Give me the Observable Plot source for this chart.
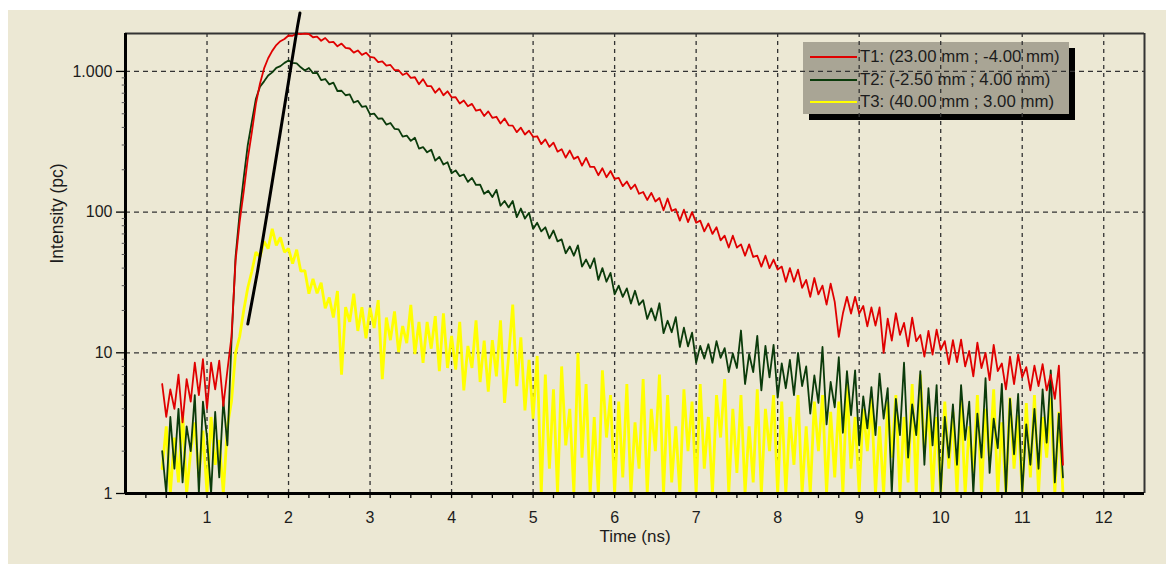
<!DOCTYPE html>
<html><head><meta charset="utf-8">
<script src="https://cdn.jsdelivr.net/npm/d3@7"></script>
<script src="https://cdn.jsdelivr.net/npm/@observablehq/plot@0.6"></script>
<style>
html,body{margin:0;padding:0;background:#fff;width:1174px;height:564px;overflow:hidden;font-family:"Liberation Sans",Arial,sans-serif;}
#panel{position:absolute;left:8px;top:10px;width:1158px;height:554px;background:#ECE8D4;}
#legend{position:absolute;left:803px;top:42px;width:266px;height:72px;background:#A9A595;box-shadow:6px 6px 0 #000;z-index:1;}
#chart{position:absolute;left:0;top:0;z-index:2;}
.row{position:absolute;left:7px;height:22px;display:flex;align-items:center;font-size:16.8px;color:#1c1c1c;white-space:nowrap;}
.sw{width:47px;height:2px;margin-right:3px;}
</style></head><body>
<div id="panel"></div>
<div id="legend"></div>
<div id="chart"></div>
<script>
// Series labels and colours
const seriesNames = ["T1: (23.00 mm ; -4.00 mm)", "T2: (-2.50 mm ; 4.00 mm)", "T3: (40.00 mm ; 3.00 mm)"];
const seriesColors = ["#e00000", "#0b3b0b", "#ffff00"];

// Time channels: first channel 0.45 ns, 0.05 ns apart
const timeStart = 0.45, timeStep = 0.05;

// T1 intensity (pc)
const t1Values = [
  6, 3.5, 5.5, 4, 7, 3.2, 6.5, 4.5, 8.5, 5, 9, 4, 8.5, 5.5, 8.8, 4.2, 7.5, 13, 45, 85,
  140, 240, 370, 590, 820, 1050, 1240, 1400, 1540, 1640, 1700, 1800, 1790, 1860, 1840, 1855, 1845, 1749, 1768, 1652,
  1728, 1610, 1623, 1508, 1576, 1468, 1455, 1361, 1410, 1312, 1358, 1270, 1253, 1165, 1180, 1098, 1111, 1023, 1019, 944,
  974, 899, 909, 811, 882, 788, 785, 706, 758, 677, 722, 654, 655, 591, 621, 565, 588, 526, 536, 482,
  520, 468, 476, 426, 463, 414, 412, 370, 398, 356, 379, 343, 346, 304, 329, 291, 312, 269, 280, 244,
  274, 239, 248, 214, 243, 210, 210, 183, 205, 177, 196, 172, 175, 153, 165, 146, 157, 135, 139, 122,
  137, 119, 126, 103, 125, 102, 105, 87, 104, 85, 100, 84, 87, 73, 83, 70, 78, 63, 68, 56,
  68, 56, 59, 49, 59, 48, 49, 41, 49, 40, 46, 39, 41, 32, 40, 32, 39, 29, 33, 25,
  34, 26, 30, 22, 31, 23, 13, 19, 25, 19, 25, 19, 21.5, 15.4, 21, 15.6, 21, 10, 17.5, 12.2,
  19.1, 13.4, 16.3, 11.1, 17.8, 12.1, 13.4, 9.4, 14.3, 9.7, 14.6, 10.5, 12.1, 8.3, 12.3, 8.6, 12.4, 8.0, 10.3, 6.8,
  11.8, 7.8, 10.0, 6.4, 11.4, 7.4, 8.4, 5.5, 9.4, 6.0, 9.7, 6.7, 7.9, 5.4, 8.1, 5.8, 8.3, 5.4, 7.0, 4.7,
  8.1, 1.6
];
// T2 intensity (pc)
const t2Values = [
  2, 1, 3.5, 1.5, 4, 1.2, 3, 2, 5, 1, 4.5, 2.5, 1, 3.8, 1.3, 4.6, 2.2, 12, 48, 98,
  175, 300, 440, 640, 780, 850, 935, 985, 1060, 1090, 1150, 1195, 1150, 1140, 1070, 1014, 1057, 973, 978, 867,
  883, 809, 832, 726, 729, 677, 687, 601, 618, 560, 566, 495, 501, 461, 463, 419, 430, 391, 387, 344,
  350, 321, 338, 283, 290, 266, 278, 232, 247, 218, 226, 189, 198, 180, 185, 164, 175, 156, 157, 135,
  142, 128, 144, 111, 120, 108, 120, 92, 106, 90, 99, 76, 84, 73, 78, 65, 74, 62, 64, 51,
  57, 49, 58, 41, 46, 40, 47, 33, 40, 32, 37, 26, 30, 25, 28.7, 22.4, 27.6, 21.9, 23.7, 17.4,
  20.7, 17, 22.5, 13.8, 16.9, 14, 17.9, 11, 15.1, 11.1, 13.9, 8.5, 11.2, 9.1, 11.5, 8.5, 12.1, 9.2, 10.8, 7.3,
  9.9, 7.8, 14.4, 6.0, 9.8, 7.3, 13.2, 5.4, 11.2, 6.7, 11.4, 4.8, 8.4, 5.6, 8.9, 5.0, 10.0, 5.8, 8.0, 3.7,
  6.9, 4.4, 11, 3.1, 6.2, 4.1, 9.3, 2.7, 7.4, 3.6, 7.5, 2.2, 4.9, 2.9, 5.7, 2.6, 7.1, 3.4, 5.6, 1,
  4.7, 2.6, 8.5, 1.8, 4.3, 2.6, 7.4, 1.6, 5.6, 2.2, 5.9, 1, 3.5, 1.8, 4.3, 1.6, 5.9, 2.4, 4.5, 1,
  3.7, 1.8, 6.6, 1.4, 3.4, 2.1, 6.0, 1, 4.7, 1.9, 5.1, 1, 3.1, 1.6, 4.0, 1.5, 5.5, 2.3, 7.5, 1.2,
  3.7, 1.3
];
// T3 intensity (pc)
const t3Values = [
  1.5, 3, 1, 2.5, 1.2, 3.8, 1, 2, 3.2, 1.3, 2.8, 1, 3.5, 1.6, 2.4, 1, 3, 4.5, 10, 13,
  20, 29, 38, 52, 48, 62, 55, 76, 58, 66, 52, 55, 43, 54, 38, 38.4, 26.3, 33.6, 26.5, 31.5,
  20.7, 24.7, 17.8, 27.5, 7, 21.1, 16.6, 26.3, 14.3, 21.1, 12.7, 20.9, 15.0, 23.7, 6.5, 17.8, 12.3, 19.7, 10.1, 15.5,
  11.7, 21.9, 9.8, 16.6, 8.5, 16.6, 10.7, 18.2, 7.4, 19.1, 7.8, 13.2, 7.6, 16.6, 5.4, 11.2, 7.8, 17.0, 6.2, 12.2,
  5.3, 12.3, 6.8, 17.0, 4.4, 9.5, 22, 5.8, 12.9, 3.9, 8.9, 3.4, 9.5, 1, 7, 1.5, 5.5, 1, 8, 2.2,
  4, 1, 10, 1.8, 6, 1, 3.5, 1, 7.5, 2.5, 5, 1, 4.5, 1.3, 6, 1, 3.2, 1.5, 6.5, 1,
  4, 2, 7, 1, 5, 1.2, 3, 1, 5.5, 2, 4.5, 1, 6, 1.5, 3.5, 1, 5, 2.5, 6.5, 1,
  4, 1.4, 5, 1, 3, 1.2, 5.5, 1, 4, 2, 5, 1, 4.5, 1, 3.5, 1.6, 5, 1, 3, 1,
  4.5, 2, 5, 1, 3.8, 1.3, 4.5, 1, 6, 1.5, 3.5, 1, 4, 2, 4.8, 1, 3, 1, 4.5, 1.8,
  5, 1, 3.5, 1.2, 6, 1, 7, 2, 4.2, 1, 3.5, 1, 4.5, 1.5, 3.8, 1, 4.6, 1, 3, 1.4,
  5, 1, 4, 1.7, 5.5, 1, 3.2, 1, 4.8, 1.5, 3.6, 1, 4.4, 1.3, 5, 1, 3.5, 1.8, 4.8, 1,
  3.8, 1
];
// Black reference line (instrument response rise)
const irfTime = [1.50, 1.62, 1.74, 2.02, 2.11, 2.14];
const irfIntensity = [16, 38, 100, 1000, 2090, 2600];

// Axes
const xTicks = [1, 2, 3, 4, 5, 6, 7, 8, 9, 10, 11, 12];
const xMinorTicks = d3.range(0.25, 12.5, 0.25);
const yTicks = [1, 10, 100, 1000];
const yTickLabels = ["1", "10", "100", "1.000"];
const yMinorTicks = [2,3,4,5,6,7,8,9,20,30,40,50,60,70,80,90,200,300,400,500,600,700,800,900];
const xDomain = [0, 12.5];
const yDomain = [1, 1860];

const toRows = (vals) => vals.map((v, i) => ({t: +(timeStart + i * timeStep).toFixed(2), v}));
const irfRows = irfTime.map((t, i) => ({t, v: irfIntensity[i]}));

const chart = Plot.plot({
  width: 1174, height: 564,
  marginTop: 33, marginLeft: 125, marginRight: 30, marginBottom: 71,
  style: {background: "transparent", fontFamily: "Liberation Sans, Arial, sans-serif", fontSize: "16px", color: "#1c1c1c", overflow: "visible"},
  x: {domain: xDomain, axis: null},
  y: {type: "log", domain: yDomain, axis: null},
  marks: [
    Plot.ruleX(xTicks, {y1: yDomain[0], y2: yDomain[1], stroke: "#333", strokeWidth: 1.3, strokeDasharray: "4,4"}),
    Plot.ruleY([10, 100, 1000], {x1: xDomain[0], x2: xDomain[1], stroke: "#333", strokeWidth: 1.3, strokeDasharray: "5,4"}),
    Plot.ruleY([yDomain[1]], {x1: xDomain[0], x2: xDomain[1], stroke: "#333", strokeWidth: 2}),
    Plot.ruleX([xDomain[1]], {y1: yDomain[0], y2: yDomain[1], stroke: "#333", strokeWidth: 2}),
    Plot.line(toRows(t3Values), {x: "t", y: "v", stroke: seriesColors[2], strokeWidth: 2.8, strokeLinejoin: "miter"}),
    Plot.line(toRows(t2Values), {x: "t", y: "v", stroke: seriesColors[1], strokeWidth: 1.8}),
    Plot.line(toRows(t1Values), {x: "t", y: "v", stroke: seriesColors[0], strokeWidth: 1.8}),
    Plot.line(irfRows, {x: "t", y: "v", stroke: "#000", strokeWidth: 3}),
    Plot.ruleY([1], {x1: xDomain[0], x2: xDomain[1], stroke: "#000", strokeWidth: 3}),
    Plot.ruleX([0], {y1: yDomain[0], y2: yDomain[1], stroke: "#000", strokeWidth: 3}),
    Plot.ruleX(xMinorTicks, {y1: 1, y2: 0.92, stroke: "#000", strokeWidth: 1.3}),
    Plot.ruleY(yTicks, {x1: 0, x2: -0.11, stroke: "#000", strokeWidth: 1.3}),
    Plot.ruleY(yMinorTicks, {x1: 0, x2: -0.04, stroke: "#555", strokeWidth: 1}),
    Plot.text(yTicks, {x: 0, y: d => d, text: (d, i) => yTickLabels[i], textAnchor: "end", dx: -13, fontSize: 16, fill: "#1c1c1c"}),
    Plot.text(xTicks, {x: d => d, y: 1, text: d => String(d), dy: 24, fontSize: 16, fill: "#1c1c1c"}),
    Plot.text(["Time (ns)"], {frameAnchor: "bottom", text: d => d, dy: 48, fontSize: 17, fill: "#1c1c1c"}),
    Plot.text(["Intensity (pc)"], {frameAnchor: "left", text: d => d, dx: -68, rotate: -90, fontSize: 17.5, fill: "#1c1c1c"})
  ]
});
document.getElementById("chart").appendChild(chart);

// Legend
const legend = document.getElementById("legend");
const rowTops = [4, 26.5, 49];
seriesNames.forEach((name, i) => {
  const row = document.createElement("div");
  row.className = "row";
  row.style.top = rowTops[i] + "px";
  const sw = document.createElement("div");
  sw.className = "sw";
  sw.style.background = seriesColors[i];
  const label = document.createElement("span");
  label.textContent = name;
  row.appendChild(sw);
  row.appendChild(label);
  legend.appendChild(row);
});
</script></body></html>
